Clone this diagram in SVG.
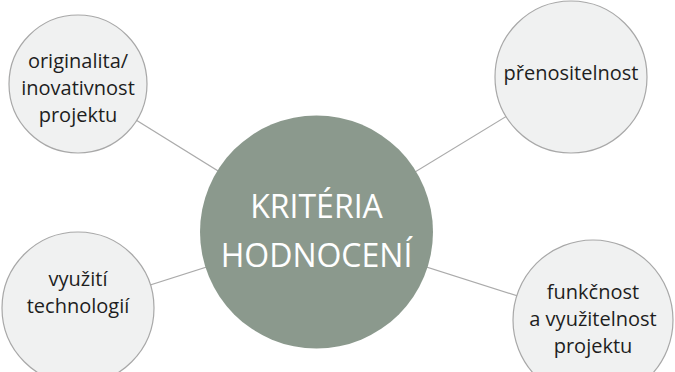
<svg xmlns="http://www.w3.org/2000/svg" width="675" height="372" viewBox="0 0 675 372">
<style>
.conn{stroke:#ababab;stroke-width:1.2;fill:none}
.leaf{fill:#f0f1f1;stroke:#a8a8a8;stroke-width:1.2}
.lt{font-family:"Open Sans","Noto Sans",sans-serif;font-size:20px;fill:#1e1e1e;text-anchor:middle}
.hub{fill:#8b998d}
.ht{font-family:"Open Sans","Noto Sans",sans-serif;font-size:32px;fill:#ffffff;text-anchor:middle}
</style>
<rect width="675" height="372" fill="#ffffff"/>
<g id="connectors">
<line class="conn" x1="78" y1="84" x2="316.5" y2="232"/>
<line class="conn" x1="571" y1="77" x2="316.5" y2="232"/>
<line class="conn" x1="78" y1="308" x2="316.5" y2="232"/>
<line class="conn" x1="593" y1="320" x2="316.5" y2="232"/>
</g>
<g id="hub">
<circle class="hub" cx="316.5" cy="232" r="116.5"/>
<text class="ht" x="316.5" y="218">KRITÉRIA</text>
<text class="ht" x="316.5" y="267">HODNOCENÍ</text>
</g>
<g id="originalita">
<circle class="leaf" cx="78" cy="84" r="69"/>
<text class="lt" x="78" y="68">originalita/</text>
<text class="lt" x="78" y="95">inovativnost</text>
<text class="lt" x="78" y="122">projektu</text>
</g>
<g id="prenositelnost">
<circle class="leaf" cx="571" cy="77" r="76"/>
<text class="lt" x="571" y="80">přenositelnost</text>
</g>
<g id="vyuziti">
<circle class="leaf" cx="78" cy="308" r="76"/>
<text class="lt" x="78" y="286">využití</text>
<text class="lt" x="78" y="313">technologií</text>
</g>
<g id="funkcnost">
<circle class="leaf" cx="593" cy="320" r="80"/>
<text class="lt" x="593" y="299">funkčnost</text>
<text class="lt" x="593" y="326">a využitelnost</text>
<text class="lt" x="593" y="353">projektu</text>
</g>
</svg>
